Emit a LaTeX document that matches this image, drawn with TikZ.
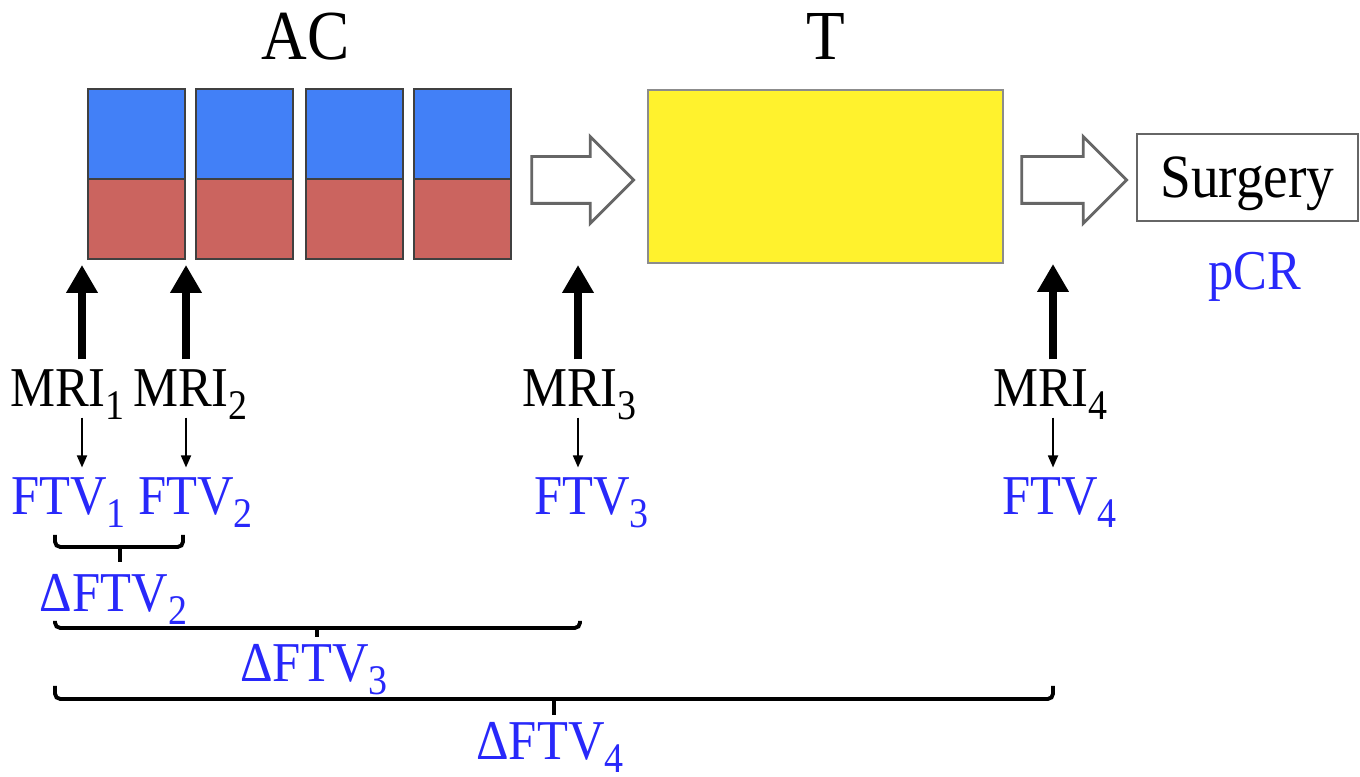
\documentclass[tikz,border=0pt]{standalone}
\usepackage{fontspec}
\setmainfont{Liberation Serif}[FakeStretch=0.9]
\usetikzlibrary{arrows.meta,shapes.arrows}
\definecolor{bleuAC}{RGB}{66,128,247}
\definecolor{rougeAC}{RGB}{203,100,95}
\definecolor{jauneT}{RGB}{255,242,45}
\definecolor{bleuTxt}{RGB}{40,40,250}
\newcommand{\indice}[1]{\raisebox{-0.5ex}[\height][0pt]{\scalebox{0.75}{#1}}}
\begin{document}
\begin{tikzpicture}[
	bloc/.style={draw=black!75, line width=0.7pt, minimum width=0.97cm, inner sep=0},
	bleu/.style={bloc, fill=bleuAC, minimum height=0.9cm},
	rouge/.style={bloc, fill=rougeAC, minimum height=0.8cm},
	titre/.style={font=\fontsize{20}{24}\selectfont, anchor=base},
	lbl/.style={font=\fontsize{16}{19}\selectfont, anchor=base, inner sep=0.1cm},
	ftv/.style={lbl, text=bleuTxt},
	creux/.style={single arrow, draw=black!60, fill=white, line width=0.8pt, inner sep=0, text height=0.44cm, text depth=0pt, minimum height=1.02cm, minimum width=0.84cm, single arrow head extend=0.2cm},
	gros/.style={line width=2.4pt, -{Triangle[width=0.3cm,length=0.28cm]}},
	fin/.style={line width=0.5pt, -{Triangle[width=0.1cm,length=0.12cm]}},
	accolade/.style={line width=1.1pt, rounded corners=1.5pt}]
				\useasboundingbox (0,0) rectangle (13.6,7.77);
				%Titres
				\node[titre] (AC) at (3.055,7.17) {AC};
				\node[titre] (T) at (8.26,7.17) {T};
				%Cycles AC
				\node[bleu] (B1) at (1.365,6.43) {};
				\node[bleu] (B2) at (2.445,6.43) {};
				\node[bleu] (B3) at (3.545,6.43) {};
				\node[bleu] (B4) at (4.625,6.43) {};
				\node[rouge] (R1) at (1.365,5.58) {};
				\node[rouge] (R2) at (2.445,5.58) {};
				\node[rouge] (R3) at (3.545,5.58) {};
				\node[rouge] (R4) at (4.625,5.58) {};
				%Traitement T et chirurgie
				\node[creux] (F1) at (5.71,5.97) {};
				\node[draw=black!45, fill=jauneT, line width=0.8pt, minimum width=3.55cm, minimum height=1.73cm] (J) at (8.255,6.005) {};
				\node[creux, minimum height=1.05cm] (F2) at (10.625,5.97) {};
				\node[draw=black!60, line width=0.8pt, minimum width=2.21cm, minimum height=0.87cm, text depth=0pt, font=\fontsize{17.5}{20}\selectfont] (S) at (12.475,5.995) {Surgery};
				\node[ftv] (pCR) at (12.545,4.87) {pCR};
				%Examens IRM
				\node[lbl] (M1) at (0.675,3.70) {MRI\indice{1}};
				\node[lbl] (M2) at (1.905,3.70) {MRI\indice{2}};
				\node[lbl] (M3) at (5.795,3.70) {MRI\indice{3}};
				\node[lbl] (M4) at (10.505,3.70) {MRI\indice{4}};
				\node[ftv] (V1) at (0.685,2.62) {FTV\indice{1}};
				\node[ftv] (V2) at (1.955,2.62) {FTV\indice{2}};
				\node[ftv] (V3) at (5.915,2.62) {FTV\indice{3}};
				\node[ftv] (V4) at (10.595,2.62) {FTV\indice{4}};
				\coordinate (h1) at (0.82,5.12);
				\coordinate (h2) at (1.86,5.12);
				\coordinate (h3) at (5.78,5.12);
				\coordinate (h4) at (10.53,5.13);
				\draw[gros] (M1.north -| h1) -- (h1);
				\draw[gros] (M2.north -| h2) -- (h2);
				\draw[gros] (M3.north -| h3) -- (h3);
				\draw[gros] (M4.north -| h4) -- (h4);
				\draw[fin] (M1.south -| h1) -- (V1.north -| h1);
				\draw[fin] (M2.south -| h2) -- (V2.north -| h2);
				\draw[fin] (M3.south -| h3) -- (V3.north -| h3);
				\draw[fin] (M4.south -| h4) -- (V4.north -| h4);
				%Variations de volume
				\draw[accolade] (0.55,2.42) |- (1.83,2.30) -- (1.83,2.42);
				\draw[accolade] (1.20,2.30) -- (1.20,2.15);
				\node[ftv] (D2) at (1.135,1.65) {ΔFTV\indice{2}};
				\draw[accolade] (0.55,1.56) |- (5.80,1.49) -- (5.80,1.56);
				\draw[accolade] (3.17,1.49) -- (3.17,1.40);
				\node[ftv] (D3) at (3.14,0.95) {ΔFTV\indice{3}};
				\draw[accolade] (0.55,0.91) |- (10.53,0.78) -- (10.53,0.91);
				\draw[accolade] (5.54,0.78) -- (5.54,0.62);
				\node[ftv] (D4) at (5.50,0.17) {ΔFTV\indice{4}};
			\end{tikzpicture}
\end{document}
